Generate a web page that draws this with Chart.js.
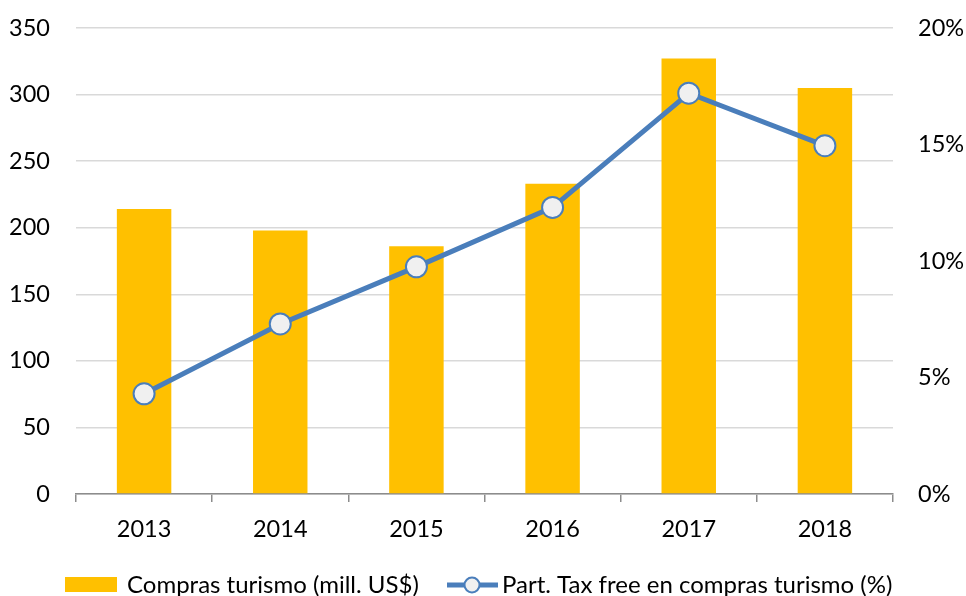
<!DOCTYPE html>
<html>
<head>
<meta charset="utf-8">
<script src="https://cdn.jsdelivr.net/npm/chart.js@4"></script>
<style>
html,body{margin:0;padding:0;background:#fff;}
#wrap{width:966px;height:596px;position:relative;}
</style>
</head>
<body>
<div id="wrap"><canvas id="c" width="966" height="596"></canvas></div>
<script>
const categories = ['2013', '2014', '2015', '2016', '2017', '2018'];
const comprasTurismo = [214, 198, 186, 233, 327, 305];
const partTaxFree = [4.3, 7.3, 9.75, 12.3, 17.2, 14.95];
const leftTicks = [0, 50, 100, 150, 200, 250, 300, 350];
const rightTicks = [0, 5, 10, 15, 20];
const seriesNames = ['Compras turismo (mill. US$)', 'Part. Tax free en compras turismo (%)'];

const FONT = 'Lato, "Open Sans", sans-serif';
const BAR = '#ffc000';
const LINE = '#4a7ebb';
const MARKER = '#f0f0f0';

const legendPlugin = {
  id: 'customLegend',
  afterDraw(chart) {
    const ctx = chart.ctx;
    const ds = chart.data.datasets;
    const barDs = ds.find(d => d.type === 'bar');
    const lineDs = ds.find(d => d.type === 'line');
    const y = 585;
    ctx.save();
    ctx.font = '24px ' + FONT;
    ctx.textBaseline = 'middle';
    ctx.textAlign = 'left';
    ctx.fillStyle = barDs.backgroundColor;
    ctx.fillRect(65, 577, 52, 15);
    ctx.fillStyle = '#000';
    ctx.fillText(barDs.label, 127, y);
    ctx.strokeStyle = lineDs.borderColor;
    ctx.lineWidth = 5;
    ctx.beginPath();
    ctx.moveTo(447, y);
    ctx.lineTo(498, y);
    ctx.stroke();
    ctx.beginPath();
    ctx.arc(472, y, 7.5, 0, Math.PI * 2);
    ctx.fillStyle = lineDs.pointBackgroundColor;
    ctx.fill();
    ctx.lineWidth = 2;
    ctx.stroke();
    ctx.fillStyle = '#000';
    ctx.fillText(lineDs.label, 502, y);
    ctx.restore();
  }
};

function fixV(width) {
  return function (s) { s.width = width; s.paddingTop = 0; s.paddingBottom = 0; };
}

new Chart(document.getElementById('c'), {
  data: {
    labels: categories,
    datasets: [
      {
        type: 'line',
        label: seriesNames[1],
        data: partTaxFree,
        yAxisID: 'y1',
        borderColor: LINE,
        borderWidth: 5,
        pointRadius: 10.5,
        pointHoverRadius: 10.5,
        pointBackgroundColor: MARKER,
        pointBorderColor: LINE,
        pointBorderWidth: 2,
        tension: 0,
        order: 0
      },
      {
        type: 'bar',
        label: seriesNames[0],
        data: comprasTurismo,
        yAxisID: 'y',
        backgroundColor: BAR,
        barPercentage: 0.4,
        categoryPercentage: 1.0,
        order: 1
      }
    ]
  },
  options: {
    responsive: false,
    animation: false,
    devicePixelRatio: 1,
    layout: { padding: { top: 28, bottom: 42, left: 0, right: 0 } },
    plugins: { legend: { display: false }, tooltip: { enabled: false } },
    scales: {
      x: {
        offset: true,
        grid: { display: true, drawOnChartArea: false, drawTicks: true, tickLength: 8, color: '#8c8c8c', lineWidth: 1.5, offset: true },
        border: { display: true, color: '#8c8c8c', width: 1.5 },
        ticks: { color: '#000', font: { family: FONT, size: 23.5 }, padding: 13, maxRotation: 0 },
        afterFit(s) { s.height = 60; s.paddingLeft = 0; s.paddingRight = 0; }
      },
      y: {
        position: 'left',
        min: 0, max: 350,
        afterBuildTicks(s) { s.ticks = leftTicks.map(v => ({ value: v })); },
        grid: { color: '#d9d9d9', lineWidth: 1.5, drawTicks: false },
        border: { display: false },
        ticks: { color: '#000', font: { family: FONT, size: 23.5 }, padding: 26 },
        afterFit: fixV(76)
      },
      y1: {
        position: 'right',
        min: 0, max: 20,
        afterBuildTicks(s) { s.ticks = rightTicks.map(v => ({ value: v })); },
        grid: { display: false, drawTicks: false },
        border: { display: false },
        ticks: { color: '#000', font: { family: FONT, size: 23.5 }, padding: 25, callback: v => v + '%' },
        afterFit: fixV(73)
      }
    }
  },
  plugins: [legendPlugin]
});
</script>
</body>
</html>
